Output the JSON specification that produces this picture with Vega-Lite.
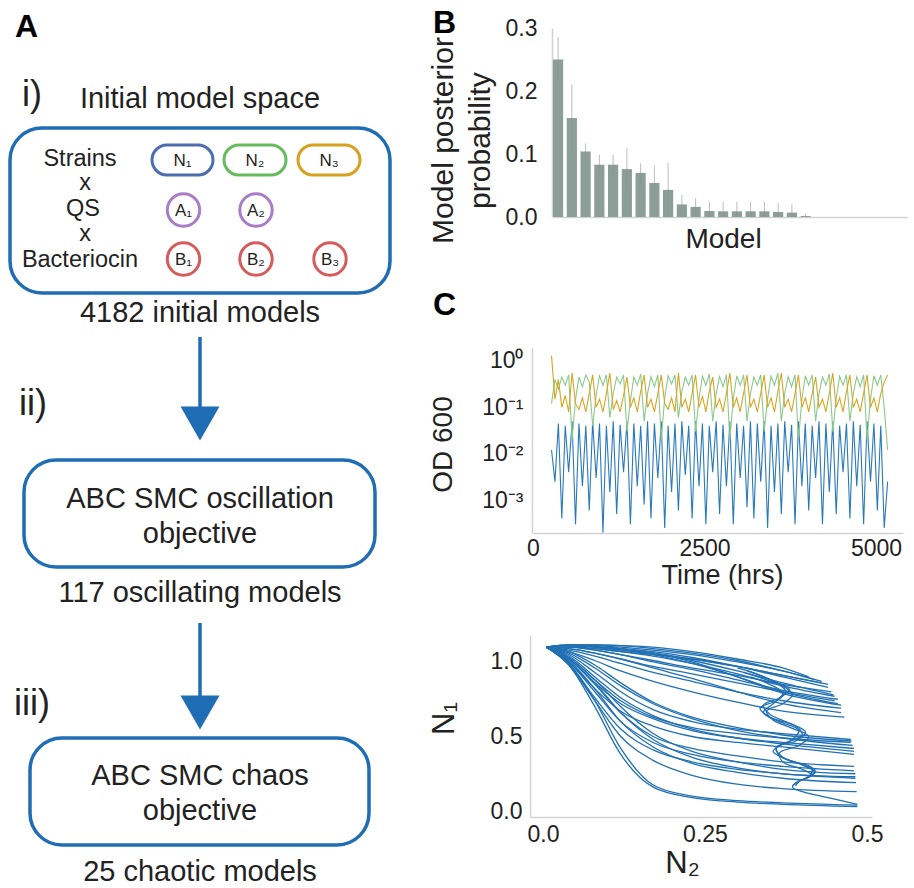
{
"$schema": "https://vega.github.io/schema/vega-lite/v6.json",
"width": 914, "height": 888, "autosize": "none", "padding": 0, "background": "white",
"config": {"view": {"stroke": null}, "font": "Liberation Sans",
 "axis": {"labelFont": "Liberation Sans", "titleFont": "Liberation Sans", "labelColor": "#222", "titleColor": "#222", "domainColor": "#d2d2d2", "domainWidth": 1.5, "ticks": false, "tickSize": 0, "grid": false, "labelFontSize": 23, "titleFontSize": 28, "titleFontWeight": "normal", "labelFlush": false, "labelOverlap": false},
 "text": {"font": "Liberation Sans", "color": "#222"}},
"datasets": {
 "boxes": [{"x1":10,"x2":390,"y1":128,"y2":293},{"x1":24,"x2":375,"y1":460,"y2":567},{"x1":30,"x2":369,"y1":738,"y2":845}],
 "pills": [{"x1":152,"x2":213,"y1":145,"y2":175,"g":"N1"},{"x1":224,"x2":286,"y1":145,"y2":175,"g":"N2"},{"x1":298,"x2":360,"y1":145,"y2":175,"g":"N3"}],
 "circles": [{"x":183.5,"y":210,"g":"A"},{"x":256,"y":210,"g":"A"},{"x":183.5,"y":259,"g":"B"},{"x":256,"y":259,"g":"B"},{"x":330,"y":259,"g":"B"}],
 "tokens": [{"x":182.5,"y":161,"t":"N₁"},{"x":255,"y":161,"t":"N₂"},{"x":329,"y":161,"t":"N₃"},{"x":183.5,"y":211,"t":"A₁"},{"x":256,"y":211,"t":"A₂"},{"x":183.5,"y":260,"t":"B₁"},{"x":256,"y":260,"t":"B₂"},{"x":330,"y":260,"t":"B₃"}],
 "rowlabels": [{"x":80,"y":166,"t":"Strains"},{"x":85,"y":190,"t":"x"},{"x":83,"y":216,"t":"QS"},{"x":85,"y":241,"t":"x"},{"x":80,"y":267,"t":"Bacteriocin"}],
 "captions": [{"x":200,"y":108,"t":"Initial model space"},{"x":200,"y":322,"t":"4182 initial models"},{"x":200,"y":508,"t":"ABC SMC oscillation"},{"x":200,"y":543,"t":"objective"},{"x":200,"y":602,"t":"117 oscillating models"},{"x":200,"y":785,"t":"ABC SMC chaos"},{"x":200,"y":820,"t":"objective"},{"x":200,"y":881,"t":"25 chaotic models"}],
 "numerals": [{"x":22,"y":106,"t":"i)"},{"x":19,"y":415,"t":"ii)"},{"x":14,"y":715,"t":"iii)"}],
 "letters": [{"x":15,"y":37,"t":"A"},{"x":433,"y":33,"t":"B"},{"x":433,"y":315,"t":"C"}],
 "shafts": [{"x":200,"y1":337,"y2":412},{"x":200,"y1":623,"y2":700}],
 "heads": [{"x":200,"y":423.5},{"x":200,"y":712.5}],
 "post": [
  {"m":1,"p":0.25,"lo":0.22,"hi":0.286},{"m":2,"p":0.157,"lo":0.105,"hi":0.21},{"m":3,"p":0.104,"lo":0.09,"hi":0.117},
  {"m":4,"p":0.083,"lo":0.066,"hi":0.099},{"m":5,"p":0.083,"lo":0.066,"hi":0.099},{"m":6,"p":0.076,"lo":0.045,"hi":0.109},
  {"m":7,"p":0.07,"lo":0.055,"hi":0.085},{"m":8,"p":0.054,"lo":0.026,"hi":0.082},{"m":9,"p":0.043,"lo":0.0,"hi":0.086},
  {"m":10,"p":0.02,"lo":0.005,"hi":0.035},{"m":11,"p":0.016,"lo":0.003,"hi":0.03},{"m":12,"p":0.0095,"lo":0.0,"hi":0.024},
  {"m":13,"p":0.009,"lo":0.0,"hi":0.024},{"m":14,"p":0.009,"lo":0.0,"hi":0.024},{"m":15,"p":0.009,"lo":0.0,"hi":0.024},
  {"m":16,"p":0.009,"lo":0.0,"hi":0.024},{"m":17,"p":0.008,"lo":0.0,"hi":0.022},{"m":18,"p":0.007,"lo":0.0,"hi":0.02},
  {"m":19,"p":0.0015,"lo":0.0,"hi":0.005},{"m":20,"p":0,"lo":0,"hi":0},{"m":21,"p":0,"lo":0,"hi":0},{"m":22,"p":0,"lo":0,"hi":0},
  {"m":23,"p":0,"lo":0,"hi":0},{"m":24,"p":0,"lo":0,"hi":0},{"m":25,"p":0,"lo":0,"hi":0},{"m":26,"p":0,"lo":0,"hi":0}],
 "ts": [
  {"t":270,"N1":0.012,"N2":0.12,"N3":1.3},{"t":320,"N1":0.0025,"N2":0.4,"N3":0.15},{"t":370,"N1":0.045,"N2":0.25,"N3":0.4},
  {"t":420,"N1":0.0004,"N2":0.45,"N3":0.1},{"t":470,"N1":0.04,"N2":0.3,"N3":0.18},{"t":520,"N1":0.004,"N2":0.5,"N3":0.08},
  {"t":570,"N1":0.05,"N2":0.02,"N3":0.55},{"t":620,"N1":0.0003,"N2":0.15,"N3":0.12},{"t":670,"N1":0.045,"N2":0.45,"N3":0.09},
  {"t":720,"N1":0.002,"N2":0.28,"N3":0.16},{"t":770,"N1":0.04,"N2":0.5,"N3":0.08},{"t":820,"N1":0.0006,"N2":0.35,"N3":0.2},
  {"t":870,"N1":0.05,"N2":0.04,"N3":0.5},{"t":920,"N1":0.003,"N2":0.18,"N3":0.1},{"t":970,"N1":0.045,"N2":0.48,"N3":0.15},
  {"t":1020,"N1":0.0002,"N2":0.3,"N3":0.08},{"t":1070,"N1":0.04,"N2":0.5,"N3":0.2},{"t":1120,"N1":0.0015,"N2":0.06,"N3":0.55},
  {"t":1170,"N1":0.05,"N2":0.2,"N3":0.09},{"t":1220,"N1":0.0005,"N2":0.45,"N3":0.14},{"t":1270,"N1":0.042,"N2":0.32,"N3":0.08},
  {"t":1320,"N1":0.004,"N2":0.5,"N3":0.18},{"t":1370,"N1":0.05,"N2":0.03,"N3":0.45},{"t":1420,"N1":0.0003,"N2":0.14,"N3":0.1},
  {"t":1470,"N1":0.045,"N2":0.45,"N3":0.16},{"t":1520,"N1":0.002,"N2":0.3,"N3":0.08},{"t":1570,"N1":0.04,"N2":0.52,"N3":0.22},
  {"t":1620,"N1":0.0008,"N2":0.05,"N3":0.5},{"t":1670,"N1":0.05,"N2":0.2,"N3":0.1},{"t":1720,"N1":0.0004,"N2":0.46,"N3":0.15},
  {"t":1770,"N1":0.045,"N2":0.28,"N3":0.08},{"t":1820,"N1":0.003,"N2":0.5,"N3":0.2},{"t":1870,"N1":0.05,"N2":0.02,"N3":0.5},
  {"t":1920,"N1":0.00025,"N2":0.16,"N3":0.12},{"t":1970,"N1":0.04,"N2":0.48,"N3":0.09},{"t":2020,"N1":0.0015,"N2":0.32,"N3":0.16},
  {"t":2070,"N1":0.045,"N2":0.5,"N3":0.08},{"t":2120,"N1":0.0006,"N2":0.06,"N3":0.55},{"t":2170,"N1":0.05,"N2":0.22,"N3":0.1},
  {"t":2220,"N1":0.0035,"N2":0.45,"N3":0.15},{"t":2270,"N1":0.04,"N2":0.3,"N3":0.08},{"t":2320,"N1":0.0004,"N2":0.5,"N3":0.2},
  {"t":2370,"N1":0.05,"N2":0.03,"N3":0.5},{"t":2420,"N1":0.002,"N2":0.15,"N3":0.1},{"t":2470,"N1":0.045,"N2":0.47,"N3":0.17},
  {"t":2520,"N1":0.0003,"N2":0.3,"N3":0.08},{"t":2570,"N1":0.04,"N2":0.52,"N3":0.22},{"t":2620,"N1":0.004,"N2":0.05,"N3":0.45},
  {"t":2670,"N1":0.05,"N2":0.2,"N3":0.1},{"t":2720,"N1":0.0005,"N2":0.46,"N3":0.15},{"t":2770,"N1":0.042,"N2":0.28,"N3":0.08},
  {"t":2820,"N1":0.002,"N2":0.5,"N3":0.2},{"t":2870,"N1":0.05,"N2":0.02,"N3":0.55},{"t":2920,"N1":0.0003,"N2":0.15,"N3":0.1},
  {"t":2970,"N1":0.045,"N2":0.48,"N3":0.16},{"t":3020,"N1":0.003,"N2":0.3,"N3":0.08},{"t":3070,"N1":0.04,"N2":0.5,"N3":0.2},
  {"t":3120,"N1":0.0007,"N2":0.05,"N3":0.5},{"t":3170,"N1":0.05,"N2":0.2,"N3":0.1},{"t":3220,"N1":0.0004,"N2":0.45,"N3":0.15},
  {"t":3270,"N1":0.045,"N2":0.3,"N3":0.08},{"t":3320,"N1":0.0025,"N2":0.5,"N3":0.2},{"t":3370,"N1":0.05,"N2":0.03,"N3":0.5},
  {"t":3420,"N1":0.00025,"N2":0.15,"N3":0.1},{"t":3470,"N1":0.04,"N2":0.47,"N3":0.16},{"t":3520,"N1":0.0015,"N2":0.3,"N3":0.08},
  {"t":3570,"N1":0.045,"N2":0.55,"N3":0.22},{"t":3620,"N1":0.0005,"N2":0.05,"N3":0.55},{"t":3670,"N1":0.05,"N2":0.2,"N3":0.1},
  {"t":3720,"N1":0.004,"N2":0.46,"N3":0.15},{"t":3770,"N1":0.042,"N2":0.28,"N3":0.08},{"t":3820,"N1":0.0003,"N2":0.5,"N3":0.2},
  {"t":3870,"N1":0.05,"N2":0.02,"N3":0.5},{"t":3920,"N1":0.002,"N2":0.15,"N3":0.1},{"t":3970,"N1":0.045,"N2":0.48,"N3":0.16},
  {"t":4020,"N1":0.0006,"N2":0.3,"N3":0.08},{"t":4070,"N1":0.04,"N2":0.5,"N3":0.2},{"t":4120,"N1":0.003,"N2":0.05,"N3":0.45},
  {"t":4170,"N1":0.05,"N2":0.2,"N3":0.1},{"t":4220,"N1":0.0003,"N2":0.45,"N3":0.15},{"t":4270,"N1":0.045,"N2":0.3,"N3":0.08},
  {"t":4320,"N1":0.0015,"N2":0.52,"N3":0.2},{"t":4370,"N1":0.05,"N2":0.03,"N3":0.55},{"t":4420,"N1":0.0005,"N2":0.15,"N3":0.1},
  {"t":4470,"N1":0.04,"N2":0.47,"N3":0.16},{"t":4520,"N1":0.004,"N2":0.3,"N3":0.08},{"t":4570,"N1":0.045,"N2":0.5,"N3":0.22},
  {"t":4620,"N1":0.0004,"N2":0.05,"N3":0.5},{"t":4670,"N1":0.05,"N2":0.2,"N3":0.1},{"t":4720,"N1":0.002,"N2":0.46,"N3":0.15},
  {"t":4770,"N1":0.042,"N2":0.28,"N3":0.08},{"t":4820,"N1":0.0003,"N2":0.5,"N3":0.2},{"t":4870,"N1":0.05,"N2":0.02,"N3":0.5},
  {"t":4920,"N1":0.0025,"N2":0.15,"N3":0.1},{"t":4970,"N1":0.045,"N2":0.48,"N3":0.16},{"t":5020,"N1":0.0006,"N2":0.3,"N3":0.08},
  {"t":5070,"N1":0.04,"N2":0.5,"N3":0.2},{"t":5120,"N1":0.00025,"N2":0.1,"N3":0.35},{"t":5170,"N1":0.0025,"N2":0.012,"N3":0.5}],
 "phase": [
  {"c":"U1","x":0.005,"y":1.1},{"c":"U1","x":0.04,"y":1.115},{"c":"U1","x":0.08,"y":1.115},{"c":"U1","x":0.12,"y":1.11},{"c":"U1","x":0.17,"y":1.1},{"c":"U1","x":0.23,"y":1.07},{"c":"U1","x":0.3,"y":1.02},{"c":"U1","x":0.37,"y":0.96},{"c":"U1","x":0.41,"y":0.9},
  {"c":"U2","x":0.005,"y":1.1},{"c":"U2","x":0.04,"y":1.115},{"c":"U2","x":0.08,"y":1.11},{"c":"U2","x":0.12,"y":1.1},{"c":"U2","x":0.17,"y":1.08},{"c":"U2","x":0.23,"y":1.05},{"c":"U2","x":0.3,"y":1.0},{"c":"U2","x":0.37,"y":0.94},{"c":"U2","x":0.42,"y":0.88},
  {"c":"U3","x":0.005,"y":1.1},{"c":"U3","x":0.04,"y":1.11},{"c":"U3","x":0.08,"y":1.1},{"c":"U3","x":0.12,"y":1.08},{"c":"U3","x":0.17,"y":1.06},{"c":"U3","x":0.23,"y":1.02},{"c":"U3","x":0.3,"y":0.97},{"c":"U3","x":0.37,"y":0.91},{"c":"U3","x":0.43,"y":0.86},
  {"c":"U4","x":0.005,"y":1.1},{"c":"U4","x":0.04,"y":1.11},{"c":"U4","x":0.08,"y":1.1},{"c":"U4","x":0.12,"y":1.09},{"c":"U4","x":0.17,"y":1.07},{"c":"U4","x":0.23,"y":1.03},{"c":"U4","x":0.3,"y":0.97},{"c":"U4","x":0.37,"y":0.9},{"c":"U4","x":0.44,"y":0.83},
  {"c":"U5","x":0.005,"y":1.1},{"c":"U5","x":0.04,"y":1.1},{"c":"U5","x":0.08,"y":1.08},{"c":"U5","x":0.12,"y":1.05},{"c":"U5","x":0.17,"y":1.01},{"c":"U5","x":0.23,"y":0.96},{"c":"U5","x":0.3,"y":0.91},{"c":"U5","x":0.37,"y":0.85},{"c":"U5","x":0.445,"y":0.8},
  {"c":"U6","x":0.005,"y":1.1},{"c":"U6","x":0.04,"y":1.1},{"c":"U6","x":0.08,"y":1.09},{"c":"U6","x":0.12,"y":1.07},{"c":"U6","x":0.17,"y":1.04},{"c":"U6","x":0.23,"y":0.99},{"c":"U6","x":0.3,"y":0.92},{"c":"U6","x":0.37,"y":0.84},{"c":"U6","x":0.45,"y":0.77},
  {"c":"U7","x":0.005,"y":1.1},{"c":"U7","x":0.04,"y":1.09},{"c":"U7","x":0.08,"y":1.06},{"c":"U7","x":0.12,"y":1.02},{"c":"U7","x":0.17,"y":0.97},{"c":"U7","x":0.23,"y":0.92},{"c":"U7","x":0.3,"y":0.86},{"c":"U7","x":0.37,"y":0.8},{"c":"U7","x":0.45,"y":0.74},
  {"c":"U8","x":0.005,"y":1.1},{"c":"U8","x":0.04,"y":1.11},{"c":"U8","x":0.08,"y":1.1},{"c":"U8","x":0.12,"y":1.08},{"c":"U8","x":0.17,"y":1.05},{"c":"U8","x":0.23,"y":0.99},{"c":"U8","x":0.3,"y":0.9},{"c":"U8","x":0.37,"y":0.8},{"c":"U8","x":0.455,"y":0.72},
  {"c":"U9","x":0.005,"y":1.1},{"c":"U9","x":0.04,"y":1.08},{"c":"U9","x":0.08,"y":1.04},{"c":"U9","x":0.12,"y":0.99},{"c":"U9","x":0.17,"y":0.93},{"c":"U9","x":0.23,"y":0.87},{"c":"U9","x":0.3,"y":0.8},{"c":"U9","x":0.37,"y":0.74},{"c":"U9","x":0.46,"y":0.69},
  {"c":"U10","x":0.005,"y":1.1},{"c":"U10","x":0.04,"y":1.09},{"c":"U10","x":0.08,"y":1.06},{"c":"U10","x":0.12,"y":1.02},{"c":"U10","x":0.17,"y":0.96},{"c":"U10","x":0.23,"y":0.89},{"c":"U10","x":0.3,"y":0.8},{"c":"U10","x":0.37,"y":0.72},{"c":"U10","x":0.46,"y":0.66},
  {"c":"U11","x":0.005,"y":1.1},{"c":"U11","x":0.04,"y":1.07},{"c":"U11","x":0.08,"y":1.01},{"c":"U11","x":0.12,"y":0.94},{"c":"U11","x":0.17,"y":0.87},{"c":"U11","x":0.23,"y":0.8},{"c":"U11","x":0.3,"y":0.73},{"c":"U11","x":0.37,"y":0.67},{"c":"U11","x":0.465,"y":0.63},
  {"c":"U12","x":0.005,"y":1.1},{"c":"U12","x":0.04,"y":1.115},{"c":"U12","x":0.08,"y":1.115},{"c":"U12","x":0.12,"y":1.11},{"c":"U12","x":0.17,"y":1.09},{"c":"U12","x":0.23,"y":1.06},{"c":"U12","x":0.3,"y":1.01},{"c":"U12","x":0.37,"y":0.94},{"c":"U12","x":0.43,"y":0.87},
  {"c":"U13","x":0.005,"y":1.1},{"c":"U13","x":0.04,"y":1.11},{"c":"U13","x":0.08,"y":1.105},{"c":"U13","x":0.12,"y":1.09},{"c":"U13","x":0.17,"y":1.06},{"c":"U13","x":0.23,"y":1.01},{"c":"U13","x":0.3,"y":0.94},{"c":"U13","x":0.37,"y":0.86},{"c":"U13","x":0.448,"y":0.78},
  {"c":"U14","x":0.005,"y":1.1},{"c":"U14","x":0.04,"y":1.1},{"c":"U14","x":0.08,"y":1.08},{"c":"U14","x":0.12,"y":1.05},{"c":"U14","x":0.17,"y":1.0},{"c":"U14","x":0.23,"y":0.95},{"c":"U14","x":0.3,"y":0.88},{"c":"U14","x":0.37,"y":0.81},{"c":"U14","x":0.455,"y":0.75},
  {"c":"U15","x":0.005,"y":1.1},{"c":"U15","x":0.04,"y":1.11},{"c":"U15","x":0.08,"y":1.1},{"c":"U15","x":0.12,"y":1.09},{"c":"U15","x":0.17,"y":1.06},{"c":"U15","x":0.23,"y":1.0},{"c":"U15","x":0.3,"y":0.9},{"c":"U15","x":0.37,"y":0.79},{"c":"U15","x":0.46,"y":0.71},
  {"c":"U16","x":0.005,"y":1.1},{"c":"U16","x":0.04,"y":1.1},{"c":"U16","x":0.08,"y":1.09},{"c":"U16","x":0.12,"y":1.07},{"c":"U16","x":0.17,"y":1.05},{"c":"U16","x":0.23,"y":1.02},{"c":"U16","x":0.3,"y":0.97},{"c":"U16","x":0.37,"y":0.91},{"c":"U16","x":0.44,"y":0.85},
  {"c":"M1","x":0.005,"y":1.1},{"c":"M1","x":0.04,"y":1.05},{"c":"M1","x":0.08,"y":0.93},{"c":"M1","x":0.12,"y":0.8},{"c":"M1","x":0.17,"y":0.68},{"c":"M1","x":0.23,"y":0.6},{"c":"M1","x":0.3,"y":0.55},{"c":"M1","x":0.37,"y":0.52},{"c":"M1","x":0.475,"y":0.48},
  {"c":"M2","x":0.005,"y":1.1},{"c":"M2","x":0.04,"y":1.03},{"c":"M2","x":0.08,"y":0.88},{"c":"M2","x":0.12,"y":0.74},{"c":"M2","x":0.17,"y":0.63},{"c":"M2","x":0.23,"y":0.56},{"c":"M2","x":0.3,"y":0.52},{"c":"M2","x":0.37,"y":0.49},{"c":"M2","x":0.475,"y":0.46},
  {"c":"M3","x":0.005,"y":1.1},{"c":"M3","x":0.04,"y":1.06},{"c":"M3","x":0.08,"y":0.96},{"c":"M3","x":0.12,"y":0.84},{"c":"M3","x":0.17,"y":0.72},{"c":"M3","x":0.23,"y":0.62},{"c":"M3","x":0.3,"y":0.54},{"c":"M3","x":0.37,"y":0.49},{"c":"M3","x":0.478,"y":0.44},
  {"c":"M4","x":0.005,"y":1.1},{"c":"M4","x":0.04,"y":1.02},{"c":"M4","x":0.08,"y":0.86},{"c":"M4","x":0.12,"y":0.72},{"c":"M4","x":0.17,"y":0.62},{"c":"M4","x":0.23,"y":0.54},{"c":"M4","x":0.3,"y":0.49},{"c":"M4","x":0.37,"y":0.46},{"c":"M4","x":0.48,"y":0.42},
  {"c":"M5","x":0.005,"y":1.1},{"c":"M5","x":0.04,"y":1.04},{"c":"M5","x":0.08,"y":0.9},{"c":"M5","x":0.12,"y":0.76},{"c":"M5","x":0.17,"y":0.64},{"c":"M5","x":0.23,"y":0.55},{"c":"M5","x":0.3,"y":0.49},{"c":"M5","x":0.37,"y":0.45},{"c":"M5","x":0.48,"y":0.4},
  {"c":"M6","x":0.005,"y":1.1},{"c":"M6","x":0.04,"y":1.0},{"c":"M6","x":0.08,"y":0.82},{"c":"M6","x":0.12,"y":0.67},{"c":"M6","x":0.17,"y":0.57},{"c":"M6","x":0.23,"y":0.5},{"c":"M6","x":0.3,"y":0.46},{"c":"M6","x":0.37,"y":0.43},{"c":"M6","x":0.48,"y":0.38},
  {"c":"M7","x":0.005,"y":1.1},{"c":"M7","x":0.04,"y":1.07},{"c":"M7","x":0.08,"y":0.98},{"c":"M7","x":0.12,"y":0.86},{"c":"M7","x":0.17,"y":0.73},{"c":"M7","x":0.23,"y":0.63},{"c":"M7","x":0.3,"y":0.56},{"c":"M7","x":0.37,"y":0.51},{"c":"M7","x":0.476,"y":0.47},
  {"c":"L1","x":0.005,"y":1.1},{"c":"L1","x":0.04,"y":1.02},{"c":"L1","x":0.08,"y":0.85},{"c":"L1","x":0.12,"y":0.66},{"c":"L1","x":0.17,"y":0.5},{"c":"L1","x":0.23,"y":0.42},{"c":"L1","x":0.3,"y":0.37},{"c":"L1","x":0.37,"y":0.33},{"c":"L1","x":0.48,"y":0.3},
  {"c":"L2","x":0.005,"y":1.1},{"c":"L2","x":0.04,"y":1.0},{"c":"L2","x":0.08,"y":0.8},{"c":"L2","x":0.12,"y":0.6},{"c":"L2","x":0.17,"y":0.46},{"c":"L2","x":0.23,"y":0.38},{"c":"L2","x":0.3,"y":0.33},{"c":"L2","x":0.37,"y":0.3},{"c":"L2","x":0.48,"y":0.27},
  {"c":"L3","x":0.005,"y":1.1},{"c":"L3","x":0.04,"y":1.03},{"c":"L3","x":0.08,"y":0.88},{"c":"L3","x":0.12,"y":0.7},{"c":"L3","x":0.17,"y":0.52},{"c":"L3","x":0.23,"y":0.4},{"c":"L3","x":0.3,"y":0.33},{"c":"L3","x":0.37,"y":0.28},{"c":"L3","x":0.482,"y":0.25},
  {"c":"L4","x":0.005,"y":1.1},{"c":"L4","x":0.04,"y":0.99},{"c":"L4","x":0.08,"y":0.76},{"c":"L4","x":0.12,"y":0.55},{"c":"L4","x":0.17,"y":0.41},{"c":"L4","x":0.23,"y":0.33},{"c":"L4","x":0.3,"y":0.28},{"c":"L4","x":0.37,"y":0.25},{"c":"L4","x":0.482,"y":0.22},
  {"c":"L5","x":0.005,"y":1.1},{"c":"L5","x":0.04,"y":1.01},{"c":"L5","x":0.08,"y":0.82},{"c":"L5","x":0.12,"y":0.6},{"c":"L5","x":0.17,"y":0.43},{"c":"L5","x":0.23,"y":0.32},{"c":"L5","x":0.3,"y":0.26},{"c":"L5","x":0.37,"y":0.22},{"c":"L5","x":0.483,"y":0.19},
  {"c":"L6","x":0.005,"y":1.1},{"c":"L6","x":0.04,"y":0.98},{"c":"L6","x":0.08,"y":0.74},{"c":"L6","x":0.12,"y":0.5},{"c":"L6","x":0.17,"y":0.34},{"c":"L6","x":0.23,"y":0.24},{"c":"L6","x":0.3,"y":0.18},{"c":"L6","x":0.37,"y":0.15},{"c":"L6","x":0.484,"y":0.13},
  {"c":"L7","x":0.005,"y":1.1},{"c":"L7","x":0.04,"y":0.99},{"c":"L7","x":0.08,"y":0.74},{"c":"L7","x":0.12,"y":0.42},{"c":"L7","x":0.17,"y":0.175},{"c":"L7","x":0.23,"y":0.1},{"c":"L7","x":0.3,"y":0.07},{"c":"L7","x":0.37,"y":0.055},{"c":"L7","x":0.485,"y":0.04},
  {"c":"L8","x":0.005,"y":1.1},{"c":"L8","x":0.04,"y":0.98},{"c":"L8","x":0.08,"y":0.7},{"c":"L8","x":0.12,"y":0.38},{"c":"L8","x":0.17,"y":0.16},{"c":"L8","x":0.23,"y":0.09},{"c":"L8","x":0.3,"y":0.06},{"c":"L8","x":0.37,"y":0.045},{"c":"L8","x":0.485,"y":0.03},
  {"c":"L9","x":0.005,"y":1.1},{"c":"L9","x":0.04,"y":1.02},{"c":"L9","x":0.08,"y":0.86},{"c":"L9","x":0.12,"y":0.66},{"c":"L9","x":0.17,"y":0.48},{"c":"L9","x":0.23,"y":0.36},{"c":"L9","x":0.3,"y":0.29},{"c":"L9","x":0.37,"y":0.25},{"c":"L9","x":0.482,"y":0.23}],
 "wiggle": [
  {"c":"W1","k":1,"x":0.3,"y":0.96},{"c":"W1","k":2,"x":0.33,"y":0.92},{"c":"W1","k":3,"x":0.36,"y":0.86},{"c":"W1","k":4,"x":0.375,"y":0.8},{"c":"W1","k":5,"x":0.36,"y":0.74},{"c":"W1","k":6,"x":0.335,"y":0.69},{"c":"W1","k":7,"x":0.35,"y":0.63},{"c":"W1","k":8,"x":0.39,"y":0.57},{"c":"W1","k":9,"x":0.4,"y":0.51},{"c":"W1","k":10,"x":0.37,"y":0.45},{"c":"W1","k":11,"x":0.355,"y":0.4},{"c":"W1","k":12,"x":0.38,"y":0.34},{"c":"W1","k":13,"x":0.415,"y":0.29},{"c":"W1","k":14,"x":0.41,"y":0.23},{"c":"W1","k":15,"x":0.39,"y":0.19},{"c":"W1","k":16,"x":0.385,"y":0.16},{"c":"W1","k":17,"x":0.4,"y":0.13},{"c":"W1","k":18,"x":0.44,"y":0.09},{"c":"W1","k":19,"x":0.485,"y":0.045},
  {"c":"W2","k":1,"x":0.32,"y":0.9},{"c":"W2","k":2,"x":0.35,"y":0.85},{"c":"W2","k":3,"x":0.37,"y":0.79},{"c":"W2","k":4,"x":0.355,"y":0.72},{"c":"W2","k":5,"x":0.34,"y":0.66},{"c":"W2","k":6,"x":0.365,"y":0.6},{"c":"W2","k":7,"x":0.395,"y":0.54},{"c":"W2","k":8,"x":0.385,"y":0.48},{"c":"W2","k":9,"x":0.36,"y":0.42},{"c":"W2","k":10,"x":0.37,"y":0.36},{"c":"W2","k":11,"x":0.4,"y":0.31},{"c":"W2","k":12,"x":0.42,"y":0.26},{"c":"W2","k":13,"x":0.4,"y":0.21},{"c":"W2","k":14,"x":0.385,"y":0.17},
  {"c":"W3","k":1,"x":0.31,"y":0.93},{"c":"W3","k":2,"x":0.345,"y":0.88},{"c":"W3","k":3,"x":0.38,"y":0.82},{"c":"W3","k":4,"x":0.365,"y":0.76},{"c":"W3","k":5,"x":0.34,"y":0.71},{"c":"W3","k":6,"x":0.35,"y":0.65},{"c":"W3","k":7,"x":0.38,"y":0.59},{"c":"W3","k":8,"x":0.405,"y":0.53},{"c":"W3","k":9,"x":0.39,"y":0.47},{"c":"W3","k":10,"x":0.36,"y":0.43},{"c":"W3","k":11,"x":0.365,"y":0.37},{"c":"W3","k":12,"x":0.395,"y":0.32},{"c":"W3","k":13,"x":0.42,"y":0.27},{"c":"W3","k":14,"x":0.405,"y":0.22},
  {"c":"W4","k":1,"x":0.315,"y":0.94},{"c":"W4","k":2,"x":0.34,"y":0.9},{"c":"W4","k":3,"x":0.37,"y":0.84},{"c":"W4","k":4,"x":0.385,"y":0.78},{"c":"W4","k":5,"x":0.37,"y":0.72},{"c":"W4","k":6,"x":0.345,"y":0.67},{"c":"W4","k":7,"x":0.355,"y":0.61},{"c":"W4","k":8,"x":0.385,"y":0.555},{"c":"W4","k":9,"x":0.41,"y":0.5},{"c":"W4","k":10,"x":0.395,"y":0.44},{"c":"W4","k":11,"x":0.365,"y":0.39},{"c":"W4","k":12,"x":0.37,"y":0.33},{"c":"W4","k":13,"x":0.4,"y":0.28},{"c":"W4","k":14,"x":0.415,"y":0.24},{"c":"W4","k":15,"x":0.395,"y":0.2},{"c":"W4","k":16,"x":0.39,"y":0.17}]
},
"layer": [
 {"layer": [
  {"data": {"name": "boxes"}, "mark": {"type": "rect", "fillOpacity": 0, "stroke": "#1f6db4", "strokeWidth": 3.5, "cornerRadius": 32},
   "encoding": {"x": {"field": "x1", "type": "quantitative", "scale": {"domain": [0, 914], "range": [0, 914], "nice": false, "zero": false}, "axis": null}, "x2": {"field": "x2"},
    "y": {"field": "y1", "type": "quantitative", "scale": {"domain": [0, 888], "range": [0, 888], "nice": false, "zero": false}, "axis": null}, "y2": {"field": "y2"}}},
  {"data": {"name": "pills"}, "mark": {"type": "rect", "fillOpacity": 0, "strokeWidth": 3, "cornerRadius": 15},
   "encoding": {"x": {"field": "x1", "type": "quantitative"}, "x2": {"field": "x2"}, "y": {"field": "y1", "type": "quantitative"}, "y2": {"field": "y2"},
    "stroke": {"field": "g", "type": "nominal", "scale": {"domain": ["N1", "N2", "N3", "A", "B"], "range": ["#4a6eb0", "#66bb5e", "#d5a11e", "#a97cc7", "#d65c5c"]}, "legend": null}}},
  {"data": {"name": "circles"}, "mark": {"type": "point", "shape": "circle", "size": 1050, "filled": false, "strokeWidth": 3, "opacity": 1},
   "encoding": {"x": {"field": "x", "type": "quantitative"}, "y": {"field": "y", "type": "quantitative"},
    "stroke": {"field": "g", "type": "nominal", "legend": null}}},
  {"data": {"name": "tokens"}, "mark": {"type": "text", "fontSize": 17, "align": "center", "baseline": "middle"},
   "encoding": {"x": {"field": "x", "type": "quantitative"}, "y": {"field": "y", "type": "quantitative"}, "text": {"field": "t"}}},
  {"data": {"name": "rowlabels"}, "mark": {"type": "text", "fontSize": 23.5, "align": "center", "baseline": "alphabetic"},
   "encoding": {"x": {"field": "x", "type": "quantitative"}, "y": {"field": "y", "type": "quantitative"}, "text": {"field": "t"}}},
  {"data": {"name": "captions"}, "mark": {"type": "text", "fontSize": 29, "align": "center", "baseline": "alphabetic"},
   "encoding": {"x": {"field": "x", "type": "quantitative"}, "y": {"field": "y", "type": "quantitative"}, "text": {"field": "t"}}},
  {"data": {"name": "numerals"}, "mark": {"type": "text", "fontSize": 36, "align": "left", "baseline": "alphabetic"},
   "encoding": {"x": {"field": "x", "type": "quantitative"}, "y": {"field": "y", "type": "quantitative"}, "text": {"field": "t"}}},
  {"data": {"name": "letters"}, "mark": {"type": "text", "fontSize": 32, "fontWeight": "bold", "align": "left", "baseline": "alphabetic", "color": "#000"},
   "encoding": {"x": {"field": "x", "type": "quantitative"}, "y": {"field": "y", "type": "quantitative"}, "text": {"field": "t"}}},
  {"data": {"name": "shafts"}, "mark": {"type": "rule", "color": "#1f6db4", "strokeWidth": 3.5},
   "encoding": {"x": {"field": "x", "type": "quantitative"}, "y": {"field": "y1", "type": "quantitative"}, "y2": {"field": "y2"}}},
  {"data": {"name": "heads"}, "mark": {"type": "point", "shape": "triangle-down", "size": 1521, "filled": true, "color": "#1f6db4", "opacity": 1, "strokeWidth": 0},
   "encoding": {"x": {"field": "x", "type": "quantitative"}, "y": {"field": "y", "type": "quantitative"}}}
 ]},
 {"data": {"name": "post"}, "layer": [
  {"mark": {"type": "bar", "color": "#8b9e98"},
   "encoding": {
    "x": {"field": "m", "type": "ordinal", "scale": {"range": [553, 907], "paddingInner": 0.26, "paddingOuter": 0},
     "axis": {"orient": "bottom", "offset": -671, "labels": false, "title": "Model", "titleFontSize": 28, "titlePadding": 8, "titleX": 723}},
    "y": {"field": "p", "type": "quantitative", "scale": {"domain": [0, 0.3], "range": [217, 28], "nice": false, "zero": true},
     "axis": {"orient": "left", "offset": -552, "values": [0, 0.1, 0.2, 0.3], "format": ".1f", "labelPadding": 15,
      "title": ["Model posterior", "probability"], "titleFontSize": 30, "titleLineHeight": 37, "titlePadding": 10, "titleY": 140}}}},
  {"mark": {"type": "rule", "color": "#8f8f8f", "strokeWidth": 1, "opacity": 0.6},
   "encoding": {"x": {"field": "m", "type": "ordinal"}, "y": {"field": "lo", "type": "quantitative"}, "y2": {"field": "hi"}}}
 ]},
 {"data": {"name": "ts"}, "transform": [{"fold": ["N1", "N2", "N3"], "as": ["s", "v"]}],
  "mark": {"type": "line", "strokeWidth": 1.1},
  "encoding": {
   "x": {"field": "t", "type": "quantitative", "scale": {"domain": [0, 5394], "range": [533, 903], "nice": false, "zero": false},
    "axis": {"orient": "bottom", "offset": -355, "values": [0, 2500, 5000], "format": "d", "labelPadding": 4, "title": "Time (hrs)", "titleFontSize": 27, "titlePadding": 2, "titleX": 722}},
   "y": {"field": "v", "type": "quantitative", "scale": {"type": "log", "domain": [0.000195, 1.905], "range": [533, 348], "nice": false},
    "axis": {"orient": "left", "offset": -532, "values": [0.001, 0.01, 0.1, 1], "labelPadding": 9,
     "labelExpr": "'10' + ['⁰','⁻¹','⁻²','⁻³'][round(-log(datum.value)/LN10)]", "title": "OD 600", "titleFontSize": 28, "titlePadding": 24, "titleY": 444}},
   "color": {"field": "s", "type": "nominal", "scale": {"domain": ["N1", "N2", "N3"], "range": ["#2a7ab9", "#8cca8a", "#d9a422"]}, "legend": null}}},
 {"layer": [
  {"data": {"name": "phase"}, "mark": {"type": "line", "interpolate": "monotone", "strokeWidth": 1.3, "color": "#2070b4"},
   "encoding": {
    "x": {"field": "x", "type": "quantitative", "scale": {"domain": [-0.02, 0.5077], "range": [530, 872], "nice": false, "zero": false},
     "axis": {"orient": "bottom", "offset": -71, "values": [0, 0.25, 0.5], "labelExpr": "datum.value == 0 ? '0.0' : datum.value == 0.5 ? '0.5' : '0.25'", "labelPadding": 6, "title": "N₂", "titleFontSize": 31, "titlePadding": 2, "titleX": 682}},
    "y": {"field": "y", "type": "quantitative", "scale": {"domain": [-0.04, 1.181], "range": [817, 635], "nice": false, "zero": false},
     "axis": {"orient": "left", "offset": -530, "values": [0, 0.5, 1], "format": ".1f", "labelPadding": 8, "title": "N₁", "titleFontSize": 31, "titlePadding": 30, "titleY": 718}},
    "detail": {"field": "c"}}},
  {"data": {"name": "wiggle"}, "mark": {"type": "line", "interpolate": "catmull-rom", "strokeWidth": 1.3, "color": "#2070b4"},
   "encoding": {"x": {"field": "x", "type": "quantitative"}, "y": {"field": "y", "type": "quantitative"}, "detail": {"field": "c"}, "order": {"field": "k"}}}
 ]}
],
"resolve": {"scale": {"x": "independent", "y": "independent", "color": "independent", "stroke": "independent"}, "axis": {"x": "independent", "y": "independent"}}
}
